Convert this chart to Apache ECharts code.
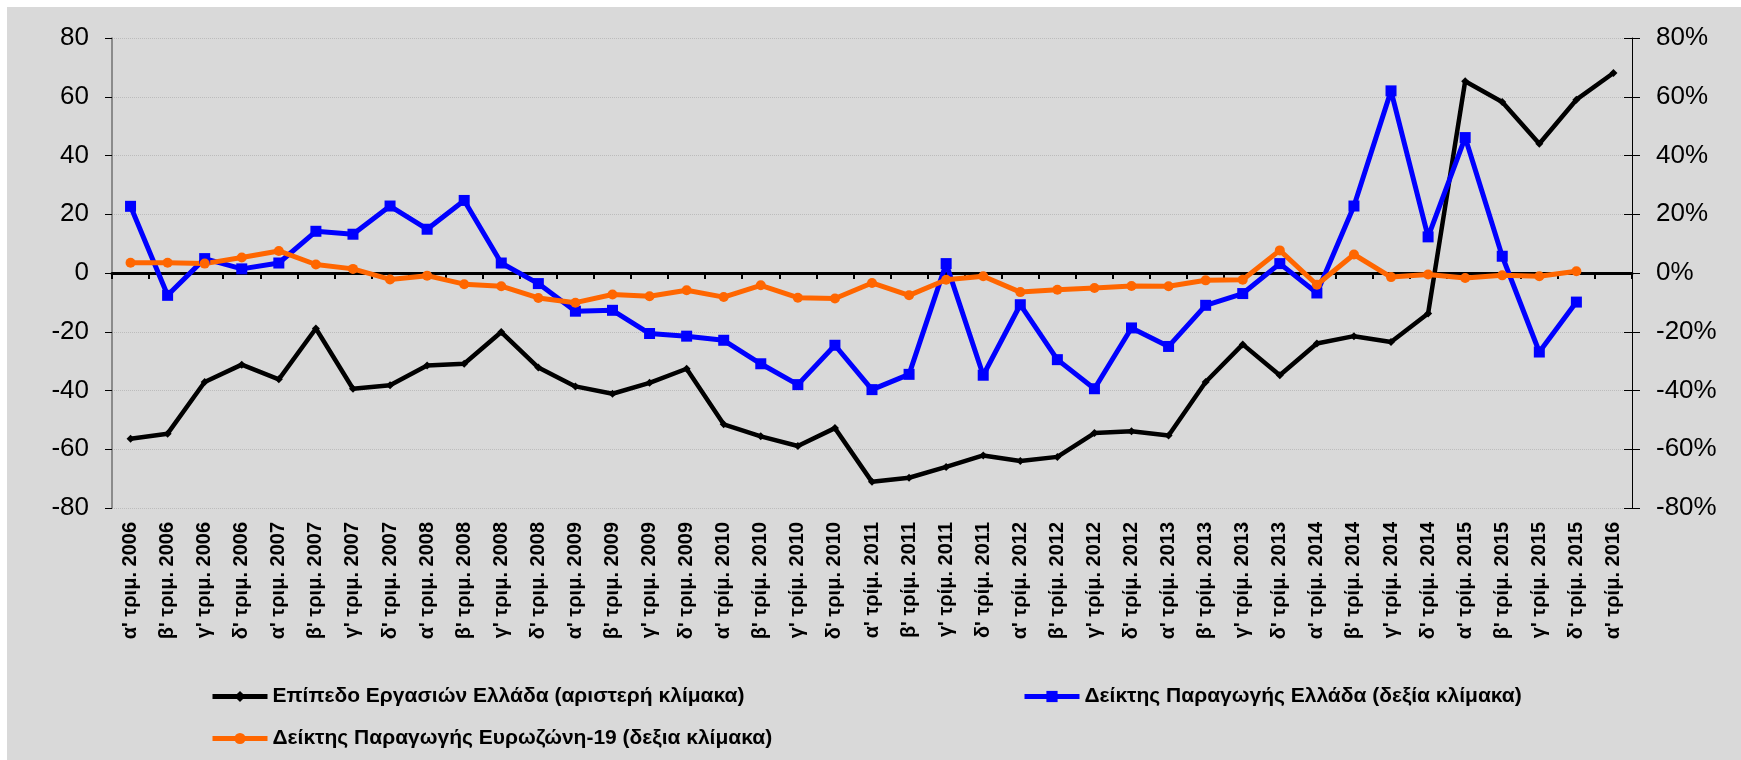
<!DOCTYPE html>
<html>
<head>
<meta charset="utf-8">
<script src="https://cdn.jsdelivr.net/npm/echarts@6/dist/echarts.min.js"></script>
<style>
  html, body { margin: 0; padding: 0; background: #fff; }
  #chart { width: 1741px; height: 760px; }
</style>
</head>
<body>
<div id="chart"></div>
<script>
// quarters
const quarters = [
  "α' τριμ. 2006", "β' τριμ. 2006", "γ' τριμ. 2006", "δ' τριμ. 2006",
  "α' τριμ. 2007", "β' τριμ. 2007", "γ' τριμ. 2007", "δ' τριμ. 2007",
  "α' τριμ. 2008", "β' τριμ. 2008", "γ' τριμ. 2008", "δ' τριμ. 2008",
  "α' τριμ. 2009", "β' τριμ. 2009", "γ' τριμ. 2009", "δ' τριμ. 2009",
  "α' τρίμ. 2010", "β' τρίμ. 2010", "γ' τρίμ. 2010", "δ' τριμ. 2010",
  "α' τρίμ. 2011", "β' τρίμ. 2011", "γ' τρίμ. 2011", "δ' τρίμ. 2011",
  "α' τρίμ. 2012", "β' τρίμ. 2012", "γ' τρίμ. 2012", "δ' τρίμ. 2012",
  "α' τρίμ. 2013", "β' τρίμ. 2013", "γ' τρίμ. 2013", "δ' τρίμ. 2013",
  "α' τρίμ. 2014", "β' τρίμ. 2014", "γ' τρίμ. 2014", "δ' τρίμ. 2014",
  "α' τρίμ. 2015", "β' τρίμ. 2015", "γ' τρίμ. 2015", "δ' τρίμ. 2015",
  "α' τρίμ. 2016"
];

// left scale
const businessLevel = [
  -56.4, -54.7, -37.1, -31.2, -36.2, -18.9, -39.4, -38.2,
  -31.5, -30.9, -20.1, -32.2, -38.6, -41.1, -37.4, -32.6,
  -51.5, -55.6, -58.9, -52.8, -71.1, -69.7, -66.0, -62.1,
  -64.0, -62.6, -54.5, -53.9, -55.3, -37.1, -24.3, -34.8,
  -24.0, -21.5, -23.5, -13.8, 65.3, 58.2, 44.0, 59.0, 68.1
];

// right scale (%)
const productionGreece = [
  22.7, -7.6, 4.9, 1.4, 3.4, 14.2, 13.2, 22.8,
  14.9, 24.7, 3.4, -3.6, -13.0, -12.7, -20.6, -21.5,
  -22.9, -30.9, -38.0, -24.6, -39.7, -34.5, 3.2, -34.8,
  -10.8, -29.5, -39.4, -18.7, -25.0, -11.0, -7.0, 3.2,
  -6.8, 22.8, 62.0, 12.3, 46.1, 5.7, -26.9, -9.9, null
];

const productionEurozone = [
  3.5, 3.5, 3.2, 5.3, 7.5, 2.9, 1.4, -2.2,
  -0.9, -3.8, -4.5, -8.5, -10.1, -7.3, -7.9, -5.9,
  -8.2, -4.2, -8.4, -8.7, -3.4, -7.6, -2.3, -1.1,
  -6.5, -5.7, -5.1, -4.4, -4.5, -2.5, -2.3, 7.7,
  -4.0, 6.3, -1.4, -0.5, -1.7, -0.8, -1.1, 0.6, null
];

const seriesNames = [
  'Επίπεδο Εργασιών Ελλάδα (αριστερή κλίμακα)',
  'Δείκτης Παραγωγής Ελλάδα (δεξία κλίμακα)',
  'Δείκτης Παραγωγής Ευρωζώνη-19 (δεξια κλίμακα)'
];

const FONT = "'Liberation Sans', Arial, sans-serif";

const chart = echarts.init(document.getElementById('chart'));

const legendText = { fontFamily: FONT, fontSize: 21, fontWeight: 'bold', color: '#000' };
const legendBase = { itemWidth: 55, itemHeight: 14, itemGap: 5, textStyle: legendText, lineStyle: { width: 5 } };

chart.setOption({
  backgroundColor: '#fff',
  animation: false,
  graphic: [{
    type: 'rect',
    z: -10,
    silent: true,
    shape: { x: 7, y: 7, width: 1734, height: 753 },
    style: { fill: '#d9d9d9' }
  }],
  grid: { left: 112, right: 109, top: 38, bottom: 252 },
  legend: [
    Object.assign({ data: [seriesNames[0]], left: 205, top: 681 }, legendBase),
    Object.assign({ data: [seriesNames[1]], left: 1017, top: 681 }, legendBase),
    Object.assign({ data: [seriesNames[2]], left: 205, top: 723 }, legendBase)
  ],
  xAxis: [
    {
      type: 'category',
      data: quarters,
      position: 'bottom',
      axisLine: { show: false, onZero: false },
      axisTick: { show: false },
      axisLabel: {
        rotate: 90,
        interval: 0,
        margin: 14,
        fontFamily: FONT,
        fontSize: 20,
        fontWeight: 'bold',
        color: '#000'
      }
    },
    {
      type: 'category',
      data: quarters,
      position: 'bottom',
      axisLine: { show: true, onZero: true, onZeroAxisIndex: 0, lineStyle: { color: '#000', width: 3 } },
      axisTick: { show: true, interval: 0, length: 6, lineStyle: { color: '#000', width: 2 } },
      axisLabel: { show: false }
    }
  ],
  yAxis: [
    {
      type: 'value',
      position: 'left',
      min: -80, max: 80, interval: 20,
      axisLine: { show: true, lineStyle: { color: '#707070', width: 1.5 } },
      axisTick: { show: true, length: 7, lineStyle: { color: '#000', width: 1 } },
      axisLabel: { margin: 23, fontFamily: FONT, fontSize: 26, color: '#000' },
      splitLine: { show: true, lineStyle: { color: '#bcbcbc', type: 'dotted', width: 1 } }
    },
    {
      type: 'value',
      position: 'right',
      min: -80, max: 80, interval: 20,
      axisLine: { show: true, lineStyle: { color: '#000', width: 1 } },
      axisTick: { show: true, length: 8, lineStyle: { color: '#000', width: 1 } },
      axisLabel: { margin: 24, fontFamily: FONT, fontSize: 26, color: '#000', formatter: '{value}%' },
      splitLine: { show: false }
    },
    {
      // inner half of the crossing ticks on the right
      type: 'value',
      position: 'right',
      min: -80, max: 80, interval: 20,
      axisLine: { show: false },
      axisTick: { show: true, inside: true, length: 8, lineStyle: { color: '#000', width: 1 } },
      axisLabel: { show: false },
      splitLine: { show: false }
    }
  ],
  series: [
    {
      name: seriesNames[0],
      type: 'line',
      yAxisIndex: 0,
      data: businessLevel,
      symbol: 'diamond',
      symbolSize: 8,
      lineStyle: { color: '#000', width: 4.5 },
      itemStyle: { color: '#000' }
    },
    {
      name: seriesNames[1],
      type: 'line',
      yAxisIndex: 1,
      data: productionGreece,
      symbol: 'rect',
      symbolSize: 11,
      lineStyle: { color: '#0000ff', width: 5 },
      itemStyle: { color: '#0000ff' }
    },
    {
      name: seriesNames[2],
      type: 'line',
      yAxisIndex: 1,
      data: productionEurozone,
      symbol: 'circle',
      symbolSize: 10,
      lineStyle: { color: '#ff6600', width: 5 },
      itemStyle: { color: '#ff6600' }
    }
  ]
});
</script>
</body>
</html>
